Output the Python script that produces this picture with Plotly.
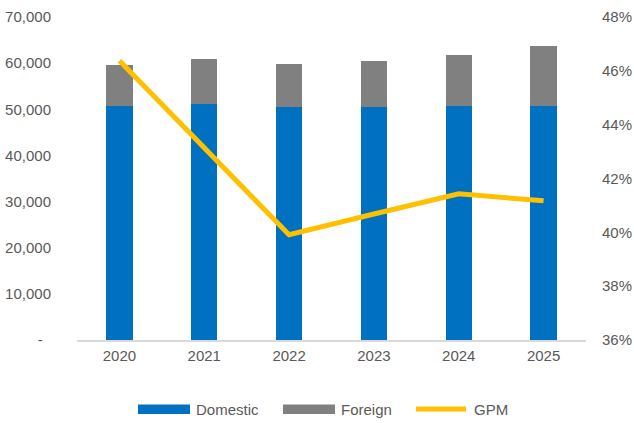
import plotly.graph_objects as go

# Revenue split (in units) and gross profit margin by year
years = ["2020", "2021", "2022", "2023", "2024", "2025"]
domestic = [50770, 51200, 50550, 50550, 50770, 50770]
foreign = [8800, 9600, 9350, 9850, 10950, 12850]
gpm = [0.4637, 0.4316, 0.3991, 0.4068, 0.4143, 0.4117]

left_ticks = [0, 10000, 20000, 30000, 40000, 50000, 60000, 70000]
left_ticktext = ["-\u00a0\u00a0", "10,000", "20,000", "30,000", "40,000", "50,000", "60,000", "70,000"]
right_ticks = [0.36, 0.38, 0.40, 0.42, 0.44, 0.46, 0.48]

BLUE = "#0070C0"
GREY = "#808080"
GOLD = "#FFC000"
TEXT = "#595959"
FONT = "Liberation Sans, Arial, sans-serif"

W, H = 634, 423
L, R, T, B = 77, 48, 17, 82.5
pw, ph = W - L - R, H - T - B

fig = go.Figure()
fig.add_trace(go.Bar(x=years, y=domestic, name="Domestic", marker=dict(color=BLUE, line=dict(width=0))))
fig.add_trace(go.Bar(x=years, y=foreign, name="Foreign", marker=dict(color=GREY, line=dict(width=0))))
fig.add_trace(go.Scatter(x=years, y=gpm, name="GPM", mode="lines", yaxis="y2",
                         line=dict(color=GOLD, width=5)))


def px_x(px):
    return (px - L) / pw


def px_y(py):
    return (H - B - py) / ph


# Legend drawn below the plot area
shapes = [
    dict(type="rect", xref="paper", yref="paper", x0=px_x(138), x1=px_x(190),
         y0=px_y(414.5), y1=px_y(405), fillcolor=BLUE, line=dict(width=0)),
    dict(type="rect", xref="paper", yref="paper", x0=px_x(283), x1=px_x(335),
         y0=px_y(414.5), y1=px_y(405), fillcolor=GREY, line=dict(width=0)),
    dict(type="line", xref="paper", yref="paper", x0=px_x(416), x1=px_x(466),
         y0=px_y(409.7), y1=px_y(409.7), line=dict(color=GOLD, width=5)),
]
annotations = [
    dict(text=t, x=px_x(x), y=px_y(409.7), xref="paper", yref="paper",
         xanchor="left", yanchor="middle", showarrow=False,
         font=dict(family=FONT, size=15, color=TEXT))
    for t, x in [("Domestic", 194), ("Foreign", 339), ("GPM", 472)]
]

fig.update_layout(
    width=W, height=H,
    margin=dict(l=L, r=R, t=T, b=B, pad=0),
    barmode="stack", bargap=0.69,
    plot_bgcolor="white", paper_bgcolor="white",
    showlegend=False,
    font=dict(family=FONT, size=15, color=TEXT),
    xaxis=dict(showline=True, linecolor="#D9D9D9", linewidth=1.5, showgrid=False,
               ticks="outside", ticklen=1, tickcolor="rgba(0,0,0,0)",
               tickfont=dict(size=15, color=TEXT), automargin=False),
    yaxis=dict(range=[0, 70000], tickvals=left_ticks, ticktext=left_ticktext,
               showgrid=False, zeroline=False, showline=False,
               ticks="outside", ticklen=22, tickcolor="rgba(0,0,0,0)",
               tickfont=dict(size=15, color=TEXT), automargin=False),
    yaxis2=dict(range=[0.36, 0.48], tickvals=right_ticks, tickformat=".0%",
                overlaying="y", side="right", showgrid=False, zeroline=False,
                ticks="outside", ticklen=12, tickcolor="rgba(0,0,0,0)",
                tickfont=dict(size=15, color=TEXT), automargin=False),
    shapes=shapes, annotations=annotations,
)

fig.write_html("out.html")
